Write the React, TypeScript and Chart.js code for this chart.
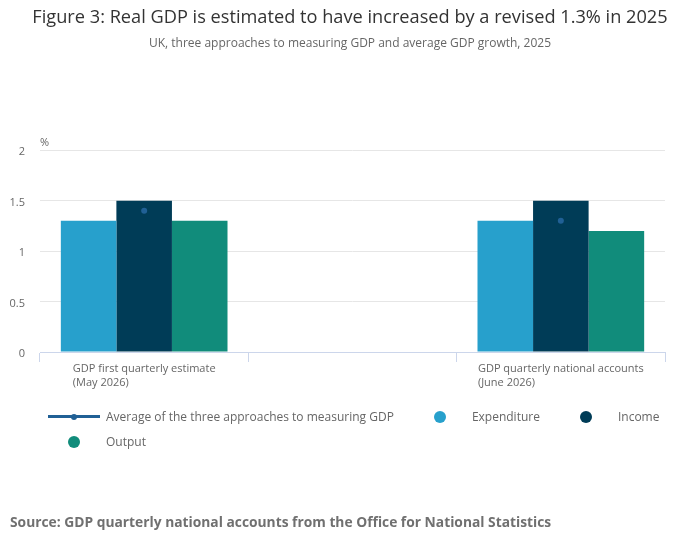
import React, { useEffect, useRef } from 'react';
import { Chart, registerables } from 'chart.js';

Chart.register(...registerables);

const title = 'Figure 3: Real GDP is estimated to have increased by a revised 1.3% in 2025';
const subtitle = 'UK, three approaches to measuring GDP and average GDP growth, 2025';
const source = 'Source: GDP quarterly national accounts from the Office for National Statistics';
const unit = '%';

// middle slot is an empty category, as in the original
const categories: string[][] = [
	['GDP first quarterly estimate', '(May 2026)'],
	[],
	['GDP quarterly national accounts', '(June 2026)'],
];

const average = [1.4, null, 1.3];
const expenditure = [1.3, null, 1.3];
const income = [1.5, null, 1.5];
const output = [1.3, null, 1.2];

const yTicks = [0, 0.5, 1, 1.5, 2];

const colours = {
	average: '#206095',
	expenditure: '#27a0cc',
	income: '#003c57',
	output: '#118c7b',
};

const legendItems = [
	{ label: 'Average of the three approaches to measuring GDP', colour: colours.average, line: true },
	{ label: 'Expenditure', colour: colours.expenditure, line: false },
	{ label: 'Income', colour: colours.income, line: false },
	{ label: 'Output', colour: colours.output, line: false },
];

const FONT = '"Open Sans", "Noto Sans", sans-serif';

// draws the x labels as left-aligned lines in a centred block
const xLabels = {
	id: 'xLabels',
	afterDraw(chart: any) {
		const { ctx } = chart;
		const x = chart.scales.x;
		ctx.save();
		ctx.font = `11px ${FONT}`;
		ctx.fillStyle = '#666666';
		ctx.textAlign = 'left';
		ctx.textBaseline = 'middle';
		categories.forEach((lines, i) => {
			if (!lines.length) return;
			const w = Math.max(...lines.map((l) => ctx.measureText(l).width));
			const cx = x.getPixelForTick(i);
			lines.forEach((l, j) => ctx.fillText(l, cx - w / 2, x.top + 17 + j * 14));
		});
		ctx.restore();
	},
};

const unitLabel = {
	id: 'unitLabel',
	afterDraw(chart: any) {
		const { ctx, chartArea } = chart;
		ctx.save();
		ctx.font = `11px ${FONT}`;
		ctx.fillStyle = '#666666';
		ctx.textAlign = 'left';
		ctx.textBaseline = 'middle';
		ctx.fillText(unit, chartArea.left, chartArea.top - 7);
		ctx.restore();
	},
};

const LegendSymbol: React.FC<{ colour: string; line: boolean }> = ({ colour, line }) => (
	<span style={{ position: 'relative', display: 'inline-block', width: 52, height: 12, marginRight: 6 }}>
		{line ? (
			<>
				<span style={{ position: 'absolute', left: 0, top: 4.5, width: 52, height: 3, background: colour }} />
				<span style={{ position: 'absolute', left: 23, top: 3, width: 6, height: 6, borderRadius: 3, background: colour }} />
			</>
		) : (
			<span style={{ position: 'absolute', left: 20, top: 0, width: 12, height: 12, borderRadius: 6, background: colour }} />
		)}
	</span>
);

export default function App() {
	const canvasRef = useRef<HTMLCanvasElement>(null);
	const chartRef = useRef<Chart | null>(null);

	useEffect(() => {
		if (!canvasRef.current) return;
		if (chartRef.current) chartRef.current.destroy();

		Chart.defaults.font.family = FONT;

		chartRef.current = new Chart(canvasRef.current, {
			type: 'bar',
			data: {
				labels: categories.map((c) => c.join(' ')),
				datasets: [
					{
						type: 'line',
						label: legendItems[0].label,
						data: average,
						borderColor: colours.average,
						backgroundColor: colours.average,
						borderWidth: 3,
						pointRadius: 3,
						pointBorderWidth: 0,
						pointBackgroundColor: colours.average,
						spanGaps: false,
					} as any,
					{
						label: 'Expenditure',
						data: expenditure,
						backgroundColor: colours.expenditure,
						categoryPercentage: 0.8,
						barPercentage: 1,
					},
					{
						label: 'Income',
						data: income,
						backgroundColor: colours.income,
						categoryPercentage: 0.8,
						barPercentage: 1,
					},
					{
						label: 'Output',
						data: output,
						backgroundColor: colours.output,
						categoryPercentage: 0.8,
						barPercentage: 1,
					},
				],
			},
			options: {
				responsive: true,
				maintainAspectRatio: false,
				animation: false,
				layout: { padding: { top: 0, left: 0, right: 0, bottom: 157 } },
				plugins: {
					legend: { display: false },
					tooltip: { enabled: false },
					title: {
						display: true,
						text: title,
						color: '#333333',
						font: { size: 18.2, weight: 'normal' },
						padding: { top: 7, bottom: 6 },
					},
					subtitle: {
						display: true,
						text: subtitle,
						color: '#666666',
						font: { size: 12 },
						padding: { top: 2, bottom: 99 },
					},
				},
				scales: {
					x: {
						offset: true,
						grid: {
							offset: true,
							drawOnChartArea: false,
							drawTicks: true,
							tickLength: 10,
							color: '#ccd6eb',
						},
						border: { color: '#ccd6eb' },
						ticks: { display: false },
						afterFit: (scale: any) => {
							scale.height = 40;
						},
					},
					y: {
						min: yTicks[0],
						max: yTicks[yTicks.length - 1],
						afterBuildTicks: (scale: any) => {
							scale.ticks = yTicks.map((v) => ({ value: v }));
						},
						grid: { color: '#e6e6e6', drawTicks: false },
						border: { display: false },
						ticks: {
							color: '#666666',
							font: { size: 11 },
							padding: 15,
							labelOffset: 2,
							callback: (v: any) => String(v),
						},
						afterFit: (scale: any) => {
							scale.width = 40;
						},
					},
					// empty right axis, only keeps the right margin of the plot
					yRight: {
						position: 'right',
						min: yTicks[0],
						max: yTicks[yTicks.length - 1],
						grid: { display: false },
						border: { display: false },
						ticks: { display: false },
						afterFit: (scale: any) => {
							scale.width = 35;
						},
					},
				},
			},
			plugins: [xLabels, unitLabel],
		});

		return () => {
			if (chartRef.current) {
				chartRef.current.destroy();
				chartRef.current = null;
			}
		};
	}, []);

	return (
		<div style={{ position: 'absolute', left: 0, top: 0, width: 700, height: 549, background: '#fff', fontFamily: FONT }}>
			<div style={{ position: 'absolute', left: 0, top: 0, width: 700, height: 549 }}>
				<canvas ref={canvasRef} />
			</div>
			<div
				style={{
					position: 'absolute',
					left: 48,
					top: 404,
					width: 620,
					display: 'flex',
					flexWrap: 'wrap',
					columnGap: 20,
					fontSize: 12,
					color: '#666666',
				}}
			>
				{legendItems.map((it) => (
					<div key={it.label} style={{ display: 'flex', alignItems: 'center', height: 25, whiteSpace: 'nowrap' }}>
						<LegendSymbol colour={it.colour} line={it.line} />
						<span>{it.label}</span>
					</div>
				))}
			</div>
			<div
				style={{
					position: 'absolute',
					left: 10,
					top: 512,
					fontSize: 13.8,
					fontWeight: 'bold',
					lineHeight: '20px',
					color: '#707070',
					whiteSpace: 'nowrap',
				}}
			>
				{source}
			</div>
		</div>
	);
}
